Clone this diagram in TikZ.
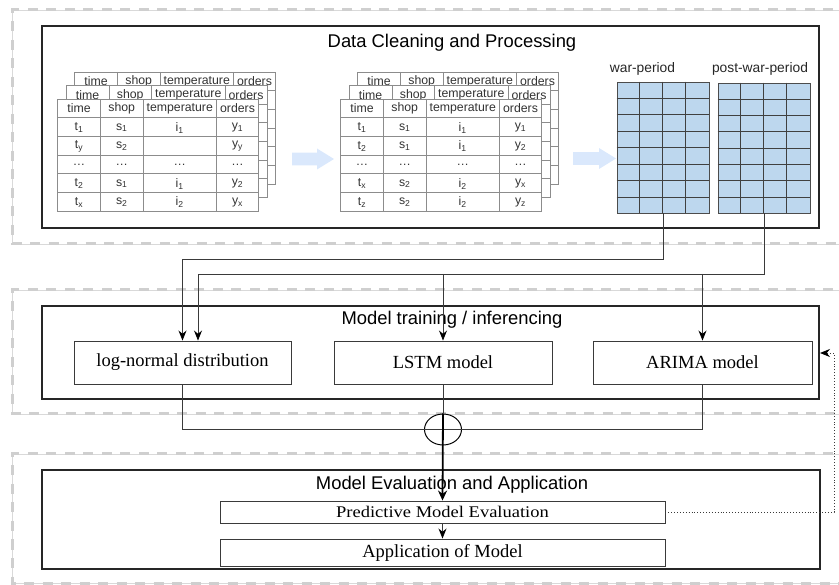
\documentclass[tikz,border=0pt]{standalone}
\usepackage{fontspec}
\setmainfont{Liberation Serif}
\newfontfamily\sansf{Liberation Sans}
\usetikzlibrary{arrows.meta,calc,shapes.geometric}
\definecolor{dashgray}{HTML}{CFCFCF}
\definecolor{blu}{HTML}{BDD7EE}
\definecolor{arrowblue}{HTML}{DAE8FC}
\definecolor{tabgray}{HTML}{8C8C8C}
\definecolor{txtgray}{HTML}{333333}
\definecolor{linegray}{HTML}{3A3A3A}
\newcommand{\low}[1]{\textsubscript{#1}}
% one table layer: #1 x, #2 y, #3 id
\newcommand{\tablayer}[3]{%
  \fill[white] (#1,#2) rectangle ++(201,112);
  \foreach \rr in {1,...,5} \draw[tabline] (#1,#2+\rr*18.667) -- ++(201,0);
  \foreach \cx in {43,85.5,159} \draw[tabline] (#1+\cx,#2) -- ++(0,112);
  \draw[tabline] (#1,#2) rectangle ++(201,112);
  \node[tabtxt] (#3-h1) at (#1+21.5,#2+9.6) {time};
  \node[tabtxt] (#3-h2) at (#1+64.25,#2+9.6) {shop};
  \node[tabtxt] (#3-h3) at (#1+122.25,#2+9.6) {temperature};
  \node[tabtxt] (#3-h4) at (#1+180,#2+9.6) {orders};
}
\begin{document}
\begin{tikzpicture}[x=1pt,y=-1pt,
  frame/.style={draw=dashgray,line width=3pt,dash pattern=on 10pt off 8.5pt},
  framethin/.style={draw=dashgray!80,line width=0.6pt},
  secbox/.style={draw=black!85,line width=2pt,inner sep=0pt},
  modelbox/.style={draw=linegray,line width=0.9pt,inner sep=0pt,font=\fontsize{18.5}{20}\selectfont},
  title/.style={font=\sansf\fontsize{18.4}{20}\selectfont,inner sep=0pt},
  lbl/.style={font=\sansf\fontsize{13.8}{15}\selectfont,text=black!85,inner sep=0pt},
  tabline/.style={draw=tabgray,line width=0.8pt},
  tabtxt/.style={font=\sansf\fontsize{12.3}{13}\selectfont,text=txtgray,inner sep=0pt},
  gridline/.style={draw=black!75,line width=0.8pt},
  conn/.style={draw=linegray,line width=0.9pt},
  arr/.style={conn,-{Stealth[length=10pt,width=8pt,color=black]}},
  thickarr/.style={draw=black,line width=1.8pt,-{Stealth[length=10pt,width=9pt]}}
]
\useasboundingbox (0,0) rectangle (839,585);
% dashed frames
\begin{scope}
\clip (0,0) rectangle (839,585);
\foreach \ya/\yb in {10/244,290/414,454/583}{
  \draw[framethin] (870,\ya) -- (12,\ya) -- (12,\yb) -- (870,\yb);
  \draw[frame] (870,\ya) -- (12,\ya) -- (12,\yb) -- (870,\yb);
}
\end{scope}
% section boxes
\node[secbox,minimum width=777pt,minimum height=202pt] (b1) at (430.5,127) {};
\node[secbox,minimum width=777pt,minimum height=93pt] (b2) at (430.5,352.5) {};
\node[secbox,minimum width=778pt,minimum height=99pt] (b3) at (431,519.5) {};
\node[title] (t1) at (452,43) {Data Cleaning and Processing};
\node[title] (t2) at (452,320) {Model training / inferencing};
\node[title] (t3) at (452,485) {Model Evaluation and Application};
% table stack 1
\tablayer{74.5}{72}{A3}
\tablayer{66}{85.5}{A2}
\tablayer{57.5}{99}{A1}
\foreach \a/\b/\cc/\d [count=\i] in {t\low{1}/s\low{1}/i\low{1}/y\low{1},
    t\low{y}/s\low{2}/{}/y\low{y}, …/…/…/…,
    t\low{2}/s\low{1}/i\low{1}/y\low{2}, t\low{x}/s\low{2}/i\low{2}/y\low{x}}{
  \node[tabtxt] (A-\i-1) at (57.5+21.5,99+\i*18.667+10) {\a};
  \node[tabtxt] (A-\i-2) at (57.5+64.25,99+\i*18.667+10) {\b};
  \node[tabtxt] (A-\i-3) at (57.5+122.25,99+\i*18.667+10) {\cc};
  \node[tabtxt] (A-\i-4) at (57.5+180,99+\i*18.667+10) {\d};
}
% table stack 2
\tablayer{357.5}{72}{B3}
\tablayer{349}{85.5}{B2}
\tablayer{340.5}{99}{B1}
\foreach \a/\b/\cc/\d [count=\i] in {t\low{1}/s\low{1}/i\low{1}/y\low{1},
    t\low{2}/s\low{1}/i\low{1}/y\low{2}, …/…/…/…,
    t\low{x}/s\low{2}/i\low{2}/y\low{x}, t\low{z}/s\low{2}/i\low{2}/y\low{z}}{
  \node[tabtxt] (B-\i-1) at (340.5+21.5,99+\i*18.667+10) {\a};
  \node[tabtxt] (B-\i-2) at (340.5+64.25,99+\i*18.667+10) {\b};
  \node[tabtxt] (B-\i-3) at (340.5+122.25,99+\i*18.667+10) {\cc};
  \node[tabtxt] (B-\i-4) at (340.5+180,99+\i*18.667+10) {\d};
}
% big blue arrows
\fill[arrowblue] (292,152.7) -- (317,152.7) -- (317,148.5) -- (334,159) -- (317,169.5) -- (317,165.3) -- (292,165.3) -- cycle;
\fill[arrowblue] (573,152.2) -- (599,152.2) -- (599,148) -- (616,158.5) -- (599,169) -- (599,164.8) -- (573,164.8) -- cycle;
% grids
\node[draw=black!70,line width=0.8pt,fill=blu,minimum width=92pt,minimum height=131pt,inner sep=0pt] (war) at (663,147.5) {};
\node[draw=black!70,line width=0.8pt,fill=blu,minimum width=92pt,minimum height=130pt,inner sep=0pt] (post) at (764,148) {};
\foreach \g in {war,post}{
  \foreach \i in {1,2,3} \draw[gridline] ($(\g.north west)+(23*\i,0)$) -- ($(\g.south west)+(23*\i,0)$);
  \foreach \j in {1,...,7} \draw[gridline] ($(\g.north west)!\j/8!(\g.south west)$) -- ($(\g.north east)!\j/8!(\g.south east)$);
}
\node[lbl] (warlbl) at (642.5,69) {war-period};
\node[lbl] (postlbl) at (760,69) {post-war-period};
% model boxes
\node[modelbox,minimum width=217pt,minimum height=43pt] (ln) at (182.5,362.5) {log-normal distribution};
\node[modelbox,minimum width=218pt,minimum height=43pt] (lstm) at (443,362.5) {LSTM model};
\node[modelbox,minimum width=219pt,minimum height=43pt] (arima) at (702.5,362.5) {ARIMA model};
% evaluation boxes
\node[modelbox,minimum width=445pt,minimum height=22pt] (pme) at (442.5,512) {\scalebox{1}[0.88]{Predictive Model Evaluation}};
\node[modelbox,minimum width=445pt,minimum height=27pt] (app) at (442.5,552.5) {Application of Model};
% oplus
\node[draw=black,line width=1pt,ellipse,minimum width=37pt,minimum height=31pt,inner sep=0pt] (op) at (443,429.5) {};
% connectors
\coordinate (j1) at (182.5,259);
\coordinate (j2) at (198,274);
\coordinate (fb) at (834,353);
\draw[arr] (war.south) |- (j1) -- (j1 |- ln.north);
\draw[arr] (post.south) |- (j2) -- (j2 |- ln.north);
\draw[arr] (lstm.north |- j2) -- (lstm.north);
\draw[arr] (arima.north |- j2) -- (arima.north);
\draw[conn] (ln.south) |- (op.west);
\draw[conn] (arima.south) |- (op.east);
\draw[conn] (lstm.south) -- (op.north);
\draw[conn] (op.west) -- (op.east);
\draw[thickarr] (op.north) -- (pme.north);
\draw[arr] (pme.south) -- (app.north);
\draw[arr,dotted] (pme.east) -| (fb) -- (fb -| b2.east);
\end{tikzpicture}
\end{document}
